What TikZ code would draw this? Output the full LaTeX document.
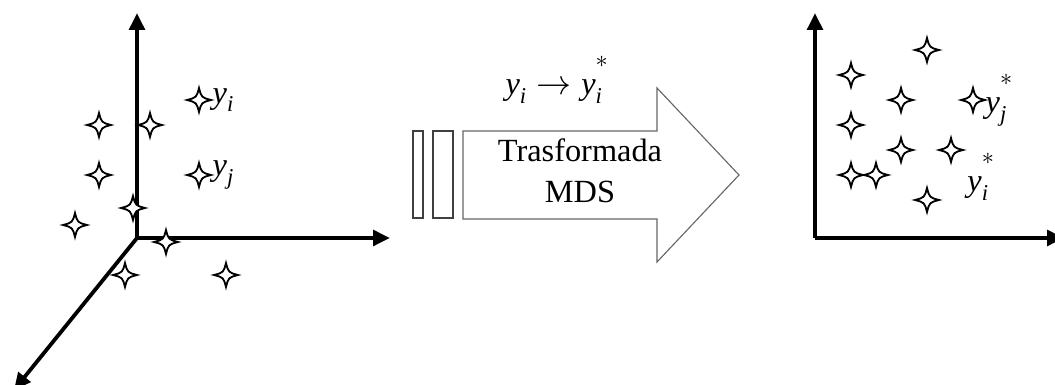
\documentclass[tikz,border=0pt]{standalone}
\usepackage{amsmath}
\usepackage{fontspec}
\setmainfont{Liberation Serif}
\usepackage{tikz}
\usetikzlibrary{positioning,arrows.meta,calc}

\newcommand{\yvar}[1]{\textit{y}_{\text{\itshape #1}}}
\newcommand{\yest}[1]{\textit{y}_{\text{\itshape #1}}^{\raisebox{0.45em}{$\scriptstyle *$}}}

\begin{document}
\begin{tikzpicture}[x=0.025cm,y=-0.025cm,
  eje/.style={line width=2.7pt,-{Triangle[length=12pt,width=11pt]}},
  barra/.style={draw=black!75,line width=0.8pt},
  flecha/.style={draw=black!60,line width=0.8pt},
  etiq/.style={font=\fontsize{23}{27}\selectfont,inner sep=1pt},
  astro/.pic={\draw[line width=1.3pt,fill=white]
    (-12,0) .. controls (-2.5,-2.5) .. (0,-12) .. controls (2.5,-2.5) .. (12,0)
    .. controls (2.5,2.5) .. (0,12) .. controls (-2.5,2.5) .. (-12,0) -- cycle;}]
  \useasboundingbox (0,0) rectangle (1055,385);

  % espacio original (3D)
  \coordinate (o3) at (137,238);
  \coordinate (z3) at (137,13);
  \coordinate (x3) at (390,238);
  \coordinate (d3) at (14,390);
  \draw[eje] (o3)--(z3);
  \draw[eje] (o3)--(x3);
  \draw[eje] (o3)--(d3);
  \foreach \p in {(199,100),(99,125),(150,125),(99,175),(199,175),
                  (133,208),(75,225),(166,242),(125,275),(226,275)}
    \pic at \p {astro};
  \node[etiq,anchor=west] (yi) at (211,100) {$\yvar{i}$};
  \node[etiq,anchor=west] (yj) at (211,175) {$\yvar{j}$};

  % transformada
  \draw[barra] (413,131) rectangle (423,218);
  \draw[barra] (433,131) rectangle (453,218);
  \draw[flecha] (463,131)--(657,131)--(657,88)--(739,175)--(657,262)
    --(657,219)--(463,219)--cycle;
  \node[etiq] (trans) at (580,150) {Trasformada};
  \node[etiq] (mds) at (580,192) {MDS};
  \node[etiq] (mapa) at (557,80) {$\yvar{i}\rightarrow\yest{i}$};

  % espacio reducido (2D)
  \coordinate (o2) at (815,238);
  \coordinate (z2) at (815,13);
  \coordinate (x2) at (1064,238);
  \draw[eje] (o2)--(z2);
  \draw[eje] (o2)--(x2);
  \foreach \p in {(927,50),(851,75),(901,100),(973,100),(851,125),
                  (901,150),(951,150),(851,175),(876,175),(927,200)}
    \pic at \p {astro};
  \node[etiq,anchor=west] (yjs) at (984,100) {$\yest{j}$};
  \node[etiq] (yis) at (981,177) {$\yest{i}$};
\end{tikzpicture}
\end{document}
